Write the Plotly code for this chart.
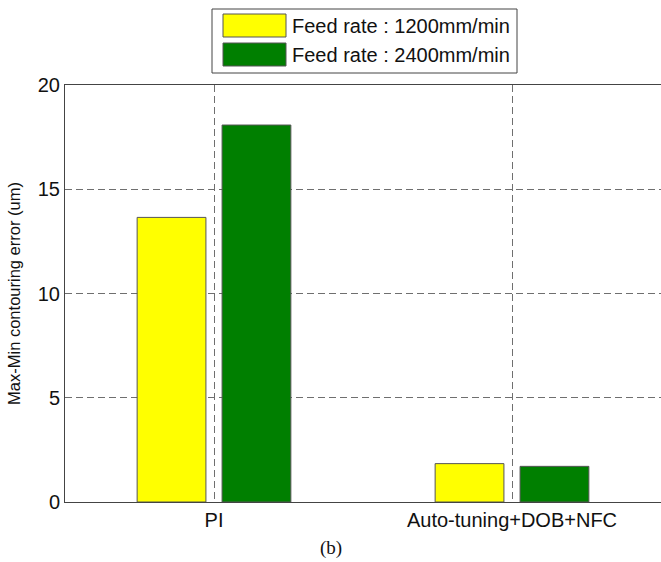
import plotly.graph_objects as go

# Data
categories = ["PI", "Auto-tuning+DOB+NFC"]
series_names = ["Feed rate : 1200mm/min", "Feed rate : 2400mm/min"]
series_colors = ["#FFFF00", "#007F00"]
err_1200 = [13.65, 1.84]
err_2400 = [18.08, 1.71]
y_ticks = [0, 5, 10, 15, 20]

x_pos = [1, 2]
W, H = 661, 562
ML, MR, MT, MB = 65, 0, 85, 60

fig = go.Figure()
for name, color, vals in zip(series_names, series_colors, [err_1200, err_2400]):
    fig.add_trace(go.Bar(
        x=x_pos, y=vals, name=name,
        marker=dict(color=color, line=dict(color="#555555", width=1)),
        showlegend=False,
    ))

axis_font = dict(family="Liberation Sans, Arial, sans-serif", size=20, color="#111111")
grid_style = dict(showgrid=True, gridcolor="#6f6f6f", griddash="7px,4px", gridwidth=1)

fig.update_layout(
    width=W, height=H,
    margin=dict(l=ML, r=MR, t=MT, b=MB),
    paper_bgcolor="white", plot_bgcolor="white",
    barmode="group", bargap=0.43, bargroupgap=0.19,
    font=axis_font,
    xaxis=dict(
        range=[0.5, 2.5], tickvals=x_pos, ticktext=categories,
        showline=True, linecolor="#444444", linewidth=1, mirror=True,
        ticks="", zeroline=False, tickfont=axis_font, **grid_style,
    ),
    yaxis=dict(
        range=[0, 20], tickvals=y_ticks,
        showline=True, linecolor="#444444", linewidth=1, mirror=False,
        ticks="", zeroline=False, tickfont=axis_font, **grid_style,
        title=dict(text="Max-Min contouring error (um)",
                   font=dict(size=16.5, color="#111111"), standoff=12),
    ),
)

# Legend box drawn in pixel-based paper coordinates
def px(x):
    return (x - ML) / (W - ML - MR)

def py(y):
    return (H - MB - y) / (H - MT - MB)

shapes = [dict(type="rect", xref="paper", yref="paper",
               x0=px(212), x1=px(517), y0=py(73), y1=py(9),
               line=dict(color="#444444", width=1), fillcolor="white", layer="above")]
annotations = []
swatch_rows = [(14, 37), (43, 66)]
for name, color, (top, bot) in zip(series_names, series_colors, swatch_rows):
    shapes.append(dict(type="rect", xref="paper", yref="paper",
                       x0=px(223), x1=px(286), y0=py(bot), y1=py(top),
                       line=dict(color="#555555", width=1), fillcolor=color, layer="above"))
    annotations.append(dict(xref="paper", yref="paper", x=px(290), y=py((top + bot) / 2),
                            xanchor="left", yanchor="middle", showarrow=False,
                            text=name, font=dict(size=20, color="#111111")))

annotations.append(dict(xref="paper", yref="paper", x=px(331), y=py(548),
                        xanchor="center", yanchor="middle", showarrow=False,
                        text="(b)", font=dict(family="Liberation Serif, Times New Roman, serif",
                                              size=19, color="#111111")))

fig.update_layout(shapes=shapes, annotations=annotations)
fig.write_html("out.html")
